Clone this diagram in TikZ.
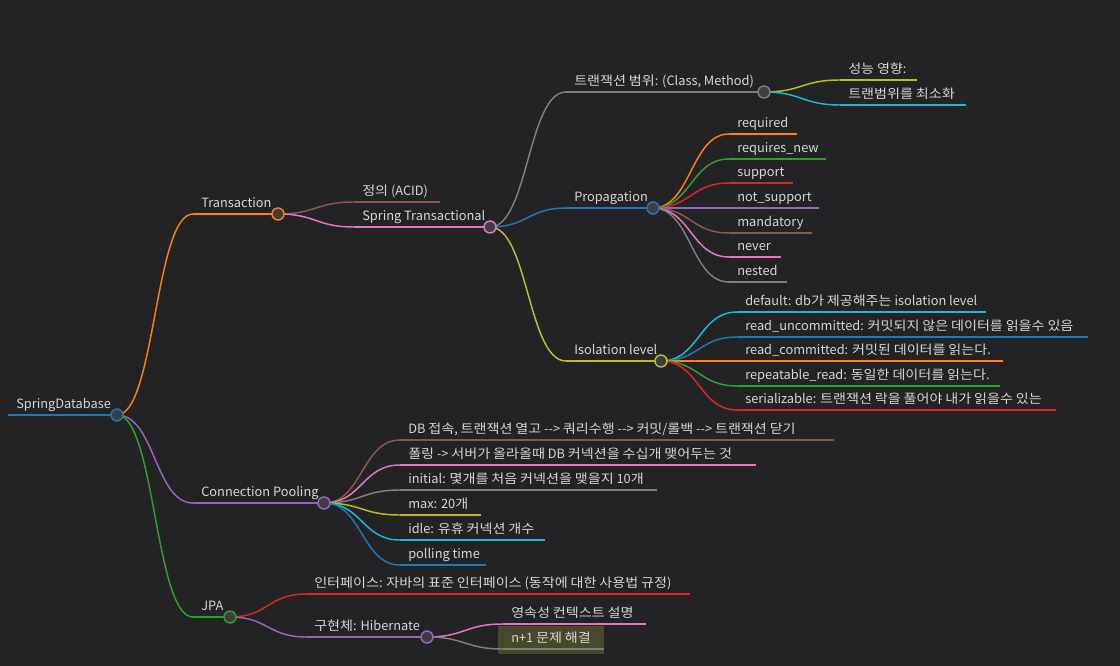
\documentclass[tikz,border=0pt]{standalone}
\usepackage{fontspec}
\setmainfont{Noto Sans CJK KR}
\newfontfamily\krfont{Noto Sans CJK KR}
\newfontfamily\hangulfont[FakeStretch=1.1]{Noto Sans CJK KR}
\XeTeXinterchartokenstate=1
\newXeTeXintercharclass\hangulclass
\count255="AC00
\loop
  \XeTeXcharclass\count255=\hangulclass
  \ifnum\count255<"D7A3 \advance\count255 1 \repeat
\XeTeXinterchartoks 0 \hangulclass = {\hangulfont}
\XeTeXinterchartoks 4095 \hangulclass = {\hangulfont}
\XeTeXinterchartoks \hangulclass 0 = {\krfont}
\XeTeXinterchartoks \hangulclass 4095 = {\krfont}
\usetikzlibrary{calc}
\definecolor{bg}{HTML}{232325}
\definecolor{txt}{HTML}{D6D6D6}
\definecolor{dotfill}{HTML}{3E3E40}
\definecolor{cblue}{HTML}{1F77B4}
\definecolor{corange}{HTML}{FF7F0E}
\definecolor{cgreen}{HTML}{2CA02C}
\definecolor{cred}{HTML}{D62728}
\definecolor{cpurple}{HTML}{9467BD}
\definecolor{cbrown}{HTML}{8C564B}
\definecolor{cpink}{HTML}{E377C2}
\definecolor{cgray}{HTML}{7F7F7F}
\definecolor{colive}{HTML}{BCBD22}
\definecolor{ccyan}{HTML}{17BECF}
\definecolor{hl}{HTML}{48482A}
\tikzset{
  lbl/.style={anchor=base west, inner sep=0pt, text=txt, font=\krfont\fontsize{9.6pt}{11pt}\selectfont},
  ln/.style={line width=1.1pt},
  dot/.style={circle, fill=dotfill, line width=1.1pt, minimum size=9pt, inner sep=0pt},
}
\newcommand\mm[6]{%
  \coordinate (#1s) at (#2,#3);
  \coordinate (#1e) at (#4,#3);
  \node[lbl] (#1) at ($(#2,#3)+(8,-6.5)$) {#6};
  \draw[ln,#5] (#1s) -- (#1e);}
\newcommand\lnk[3]{%
  \path ($(#2)!0.5!(#3)$) coordinate (lnkm);
  \draw[ln,#1] (#2) .. controls (lnkm |- #2) and (lnkm |- #3) .. (#3);}
\newcommand\cc[2]{\node[dot, draw=#2] (#1c) at (#1e) {};}
\begin{document}
\begin{tikzpicture}[x=0.75pt,y=-0.75pt]
\fill[bg] (0,0) rectangle (1120,666);
\useasboundingbox (0,0) rectangle (1120,666);
\fill[hl] (498,626) rectangle (604,654);
% nodes
\mm{root}{8}{415}{117}{cblue}{SpringDatabase}
\mm{tr}{193}{214}{278}{corange}{Transaction}
\mm{cp}{193}{503}{324}{cpurple}{Connection Pooling}
\mm{jpa}{193}{617}{230}{cgreen}{JPA}
\mm{acid}{354}{202}{440}{cbrown}{정의 (ACID)}
\mm{st}{354}{227}{490}{cpink}{Spring Transactional}
\mm{scope}{566}{92}{764}{cgray}{트랜잭션 범위: (Class, Method)}
\mm{prop}{566}{208}{653}{cblue}{Propagation}
\mm{iso}{566}{361}{661}{colive}{Isolation level}
\mm{perf}{840}{80}{917}{colive}{성능 영향:}
\mm{mini}{840}{105}{966}{ccyan}{트랜범위를 최소화}
\mm{pa}{729}{134}{797}{corange}{required}
\mm{pb}{729}{159}{826}{cgreen}{requires\_new}
\mm{pc}{729}{183}{793}{cred}{support}
\mm{pd}{729}{208}{819}{cpurple}{not\_support}
\mm{pe}{729}{233}{812}{cbrown}{mandatory}
\mm{pf}{729}{257}{781}{cpink}{never}
\mm{pg}{729}{282}{787}{cgray}{nested}
\mm{ia}{737}{312}{986}{ccyan}{default: db가 제공해주는 isolation level}
\mm{ib}{737}{337}{1088}{cblue}{read\_uncommitted: 커밋되지 않은 데이터를 읽을수 있음}
\mm{ic}{737}{361}{1003}{corange}{read\_committed: 커밋된 데이터를 읽는다.}
\mm{id}{737}{386}{1000}{cgreen}{repeatable\_read: 동일한 데이터를 읽는다.}
\mm{ie}{737}{410}{1056}{cred}{serializable: 트랜잭션 락을 풀어야 내가 읽을수 있는}
\mm{ca}{400}{440}{834}{cbrown}{DB 접속, 트랜잭션 열고 -{}-> 쿼리수행 -{}-> 커밋/롤백 -{}-> 트랜잭션 닫기}
\mm{cb}{400}{465}{756}{cpink}{폴링 -> 서버가 올라올때 DB 커넥션을 수십개 맺어두는 것}
\mm{cc}{400}{490}{657}{cgray}{initial: 몇개를 처음 커넥션을 맺을지 10개}
\mm{cd}{400}{515}{481}{colive}{max: 20개}
\mm{ce}{400}{540}{545}{ccyan}{idle: 유휴 커넥션 개수}
\mm{cf}{400}{565}{486}{cblue}{polling time}
\mm{ja}{306}{594}{690}{cred}{인터페이스: 자바의 표준 인터페이스 (동작에 대한 사용법 규정)}
\mm{jb}{306}{637}{427}{cpurple}{구현체: Hibernate}
\mm{ha}{503}{624}{646}{cpink}{영속성 컨텍스트 설명}
\mm{hb}{503}{649}{604}{cgray}{n+1 문제 해결}
% links
\lnk{corange}{roote}{trs}
\lnk{cpurple}{roote}{cps}
\lnk{cgreen}{roote}{jpas}
\lnk{cbrown}{tre}{acids}
\lnk{cpink}{tre}{sts}
\lnk{cgray}{ste}{scopes}
\lnk{cblue}{ste}{props}
\lnk{colive}{ste}{isos}
\lnk{colive}{scopee}{perfs}
\lnk{ccyan}{scopee}{minis}
\lnk{corange}{prope}{pas}
\lnk{cgreen}{prope}{pbs}
\lnk{cred}{prope}{pcs}
\lnk{cpurple}{prope}{pds}
\lnk{cbrown}{prope}{pes}
\lnk{cpink}{prope}{pfs}
\lnk{cgray}{prope}{pgs}
\lnk{ccyan}{isoe}{ias}
\lnk{cblue}{isoe}{ibs}
\lnk{corange}{isoe}{ics}
\lnk{cgreen}{isoe}{ids}
\lnk{cred}{isoe}{ies}
\lnk{cbrown}{cpe}{cas}
\lnk{cpink}{cpe}{cbs}
\lnk{cgray}{cpe}{ccs}
\lnk{colive}{cpe}{cds}
\lnk{ccyan}{cpe}{ces}
\lnk{cblue}{cpe}{cfs}
\lnk{cred}{jpae}{jas}
\lnk{cpurple}{jpae}{jbs}
\lnk{cpink}{jbe}{has}
\lnk{cgray}{jbe}{hbs}
% circles
\cc{root}{cblue}
\cc{tr}{corange}
\cc{cp}{cpurple}
\cc{jpa}{cgreen}
\cc{st}{cpink}
\cc{scope}{cgray}
\cc{prop}{cblue}
\cc{iso}{colive}
\cc{jb}{cpurple}
\end{tikzpicture}
\end{document}
